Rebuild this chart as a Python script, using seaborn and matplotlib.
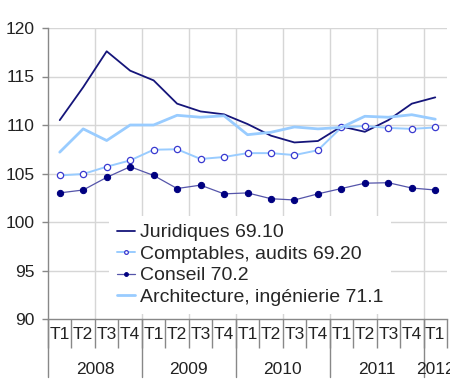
import numpy as np
import pandas as pd
import seaborn as sns
import matplotlib
matplotlib.use("Agg")
import matplotlib.pyplot as plt

# quarters T1 2008 .. T1 2012
quarters = ["T1", "T2", "T3", "T4"] * 4 + ["T1"]
years = ["2008", "2009", "2010", "2011", "2012"]
year_sizes = [4, 4, 4, 4, 1]

juridiques = [110.5, 113.9, 117.6, 115.6, 114.6, 112.2, 111.4, 111.1, 110.1, 108.9,
              108.2, 108.35, 109.85, 109.3, 110.5, 112.2, 112.85]
comptables = [104.8, 104.95, 105.7, 106.35, 107.45, 107.5, 106.5, 106.7, 107.1, 107.1,
              106.9, 107.4, 109.75, 109.9, 109.7, 109.6, 109.75]
conseil = [103.0, 103.3, 104.6, 105.7, 104.8, 103.45, 103.8, 102.9, 103.0, 102.4,
           102.27, 102.9, 103.45, 104.0, 104.05, 103.5, 103.3]
architecture = [107.2, 109.6, 108.4, 110.0, 110.0, 111.0, 110.8, 110.95, 109.0, 109.25,
                109.8, 109.6, 109.75, 110.9, 110.8, 111.06, 110.6]

labels = ["Juridiques 69.10", "Comptables, audits 69.20", "Conseil 70.2",
          "Architecture, ingénierie 71.1"]

df = pd.DataFrame({
    "pos": np.arange(len(quarters)),
    "juridiques": juridiques,
    "comptables": comptables,
    "conseil": conseil,
    "architecture": architecture,
})

sns.set_style("white")
plt.rcParams["font.family"] = ["Liberation Sans", "DejaVu Sans"]

fig = plt.figure(figsize=(4.5, 3.89), dpi=100)
ax = fig.add_axes([48 / 450, 1 - 319 / 389, 399 / 450, 291 / 389])

# gridlines first
for y in range(95, 121, 5):
    ax.axhline(y, color="#d6d6d6", lw=1, zorder=0)
for b in np.arange(1.5, 16, 2):
    ax.axvline(b, color="#d6d6d6", lw=1, zorder=0)

sns.lineplot(data=df, x="pos", y="juridiques", ax=ax, color="#15157a", lw=1.3,
             label=labels[0])
sns.lineplot(data=df, x="pos", y="comptables", ax=ax, color="#99ccff", lw=1.4,
             marker="o", markersize=4.5, markerfacecolor="white",
             markeredgecolor="#3a3ad0", markeredgewidth=0.9, label=labels[1])
sns.lineplot(data=df, x="pos", y="conseil", ax=ax, color="#5555aa", lw=0.9,
             marker="o", markersize=4.5, markerfacecolor="#000080",
             markeredgecolor="#000080", label=labels[2])
sns.lineplot(data=df, x="pos", y="architecture", ax=ax, color="#99ccff", lw=2,
             label=labels[3])

ax.set_xlim(-0.5, 16.5)
ax.set_ylim(90, 120)
ax.set_xlabel("")
ax.set_ylabel("")

# y axis
ax.set_yticks(range(90, 121, 5))
ax.tick_params(axis="y", direction="out", length=4.5, width=1, color="#888888",
               labelsize=12.5, labelcolor="#222222", pad=5, left=True)

# x axis: separators as major ticks, quarter labels as minor ticks
ax.set_xticks(np.arange(-0.5, 17, 1))
ax.set_xticklabels([])
ax.set_xticks(np.arange(len(quarters)), minor=True)
ax.set_xticklabels(quarters, minor=True)
ax.tick_params(axis="x", which="major", direction="out", length=21, width=1,
               color="#888888", bottom=True)
ax.tick_params(axis="x", which="minor", length=0, labelsize=12.5,
               labelcolor="#222222", pad=6)

# year separators and labels
trans = ax.get_xaxis_transform()
edges = np.concatenate([[0], np.cumsum(year_sizes)]) - 0.5
for e in edges:
    if e < 16.5:
        ax.plot([e, e], [0, -58 / 291], transform=trans, color="#888888",
                lw=1, clip_on=False)
for i, yr in enumerate(years):
    ax.text((edges[i] + edges[i + 1]) / 2, -50 / 291, yr, transform=trans,
            ha="center", va="center", fontsize=12.5, color="#222222")

for s in ["top", "right"]:
    ax.spines[s].set_visible(False)
for s in ["left", "bottom"]:
    ax.spines[s].set_color("#888888")
    ax.spines[s].set_linewidth(1)

leg = ax.legend(loc="upper left", bbox_to_anchor=(0.153, 0.354), borderaxespad=0,
                frameon=True, fancybox=False, framealpha=1, edgecolor="white",
                fontsize=14, handlelength=0.95, handletextpad=0.25,
                labelspacing=0.2, borderpad=0.4, markerscale=0.6)
leg.get_frame().set_linewidth(0)

fig.savefig("out.png", dpi=100)
